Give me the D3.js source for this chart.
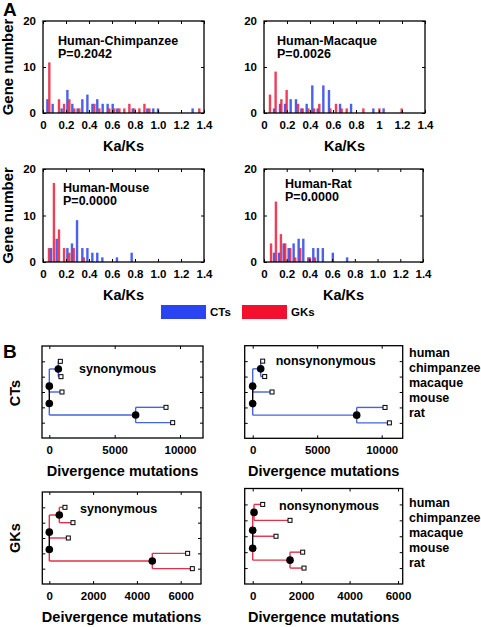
<!DOCTYPE html>
<html><head><meta charset="utf-8">
<script src="https://cdn.jsdelivr.net/npm/d3@7"></script>
<style>
body{margin:0;background:#fff}
svg{display:block}
text{font-family:"Liberation Sans",Arial,Helvetica,sans-serif;font-weight:bold;fill:#000}
</style>
</head><body>
<svg id="chart" width="481" height="627"></svg>
<script>
// ---------------- DATA ----------------
const pairNames = ["Human-Chimpanzee", "Human-Macaque", "Human-Mouse", "Human-Rat"];
const pValues = ["P=0.2042", "P=0.0026", "P=0.0000", "P=0.0000"];
const seriesNames = ["CTs", "GKs"];

const kaksTicks = [0, 0.2, 0.4, 0.6, 0.8, 1.0, 1.2, 1.4];
const kaksLabelsDecimal = ["0", "0.2", "0.4", "0.6", "0.8", "1.0", "1.2", "1.4"];
const kaksLabelsInt = ["0", "0.2", "0.4", "0.6", "0.8", "1", "1.2", "1.4"];
const geneTicks = [0, 10, 20];

// Ka/Ks bin centres and gene counts per comparison
const chimpCtX = [0.038, 0.084, 0.162, 0.212, 0.255, 0.301, 0.342, 0.386, 0.43, 0.472, 0.519, 0.562, 0.606, 0.646, 0.78, 0.907, 0.959, 1.0, 1.301];
const chimpCtN = [3, 2, 1, 5, 2, 1, 3, 4, 2, 3, 2, 2, 2, 1, 1, 1, 1, 1, 1];
const chimpGkX = [0.055, 0.139, 0.183, 0.229, 0.272, 0.316, 0.447, 0.49, 0.577, 0.62, 0.664, 0.707, 0.751, 0.795, 0.838, 0.882, 0.925, 1.359];
const chimpGkN = [11, 3, 2, 3, 1, 1, 2, 1, 1, 1, 1, 1, 2, 1, 1, 2, 1, 1];

const macaqueCtX = [0.087, 0.139, 0.183, 0.232, 0.278, 0.325, 0.371, 0.42, 0.467, 0.516, 0.565, 0.661, 0.757, 0.951, 1.04];
const macaqueCtN = [1, 2, 2, 3, 3, 1, 2, 6, 1, 6, 5, 2, 2, 1, 1];
const macaqueGkX = [0.052, 0.101, 0.151, 0.197, 0.296, 0.336, 0.386, 0.435, 0.481, 0.577, 0.626, 0.675, 0.719, 0.864, 1.003, 1.197];
const macaqueGkN = [4, 9, 3, 5, 2, 1, 1, 1, 2, 1, 2, 1, 1, 1, 1, 1];

const mouseCtX = [0.07, 0.119, 0.212, 0.252, 0.296, 0.342, 0.386, 0.429, 0.472, 0.516, 0.643, 0.771];
const mouseCtN = [3, 5, 3, 4, 9, 3, 3, 2, 2, 1, 1, 2];
const mouseGkX = [0.052, 0.095, 0.139, 0.183, 0.229, 0.267, 0.354];
const mouseGkN = [3, 17, 7, 3, 2, 3, 1];

const ratCtX = [0.088, 0.132, 0.173, 0.217, 0.261, 0.305, 0.346, 0.39, 0.434, 0.475, 0.518, 0.606, 0.732];
const ratCtN = [2, 2, 4, 3, 4, 5, 5, 1, 3, 3, 3, 2, 1];
const ratGkX = [0.062, 0.105, 0.149, 0.187, 0.231, 0.275, 0.319, 0.404, 0.448];
const ratGkN = [4, 13, 6, 4, 3, 1, 3, 1, 1];

// Trees: leaf order human, chimpanzee, macaque, mouse, rat
const leafNames = ["human", "chimpanzee", "macaque", "mouse", "rat"];
const leafRows = [1, 2, 3, 4, 5];
// internal nodes: [human-chimp, primate, root, rodent]
const nodeRows = [1.5, 2.62, 3.75, 4.5];

const ctSynLeafX = [842, 893, 969, 8929, 9439];
const ctSynNodeX = [689, 0, 0, 6607];
const ctNonLeafX = [775, 930, 1499, 10258, 10594];
const ctNonNodeX = [620, 0, 0, 8062];
const gkSynLeafX = [715, 1081, 868, 6317, 6530];
const gkSynNodeX = [457, 0, 0, 4703];
const gkNonLeafX = [413, 1541, 963, 2064, 2119];
const gkNonNodeX = [55, 0, 0, 1541];

const treeTicksCT = [0, 5000, 10000];
const treeTicksGK = [0, 2000, 4000, 6000];

// ---------------- STYLE ----------------
const BAR_BLUE = "#2c44ea", BAR_RED = "#ec1c38";
const LEG_BLUE = "#2a44f2", LEG_RED = "#f2102e";
const TREE_BLUE = "#4564da", TREE_RED = "#e0304a";

const svg = d3.select("#chart");
svg.append("rect").attr("width", 481).attr("height", 627).attr("fill", "#fff");

function frameAxes(g, x, y, xTicks, xLabels, yTicks, yLabels, box, pad) {
  const ax = d3.axisBottom(x).tickValues(xTicks).tickSizeInner(-3).tickSizeOuter(0).tickPadding(pad)
    .tickFormat((d, i) => xLabels ? xLabels[i] : "");
  const gb = g.append("g").attr("transform", `translate(0,${box.b})`).call(ax);
  const at = d3.axisTop(x).tickValues(xTicks).tickSizeInner(-3).tickSizeOuter(0).tickFormat("");
  const gt = g.append("g").attr("transform", `translate(0,${box.t})`).call(at);
  const al = d3.axisLeft(y).tickValues(yTicks).tickSizeInner(-3).tickSizeOuter(0).tickPadding(7)
    .tickFormat((d, i) => yLabels ? yLabels[i] : "");
  const gl = g.append("g").attr("transform", `translate(${box.l},0)`).call(al);
  const ar = d3.axisRight(y).tickValues(yTicks).tickSizeInner(-3).tickSizeOuter(0).tickFormat("");
  const gr = g.append("g").attr("transform", `translate(${box.r},0)`).call(ar);
  [gb, gt, gl, gr].forEach(a => {
    a.select(".domain").remove();
    a.selectAll("line").attr("stroke", "#000").attr("stroke-width", 1);
    a.selectAll("text").attr("font-size", 11.5).attr("font-family", '"Liberation Sans",Arial,sans-serif')
      .attr("font-weight", "bold").attr("fill", "#000");
  });
  g.append("rect").attr("x", box.l).attr("y", box.t).attr("width", box.r - box.l).attr("height", box.b - box.t)
    .attr("fill", "none").attr("stroke", "#000").attr("stroke-width", 1.3);
}

// ---------------- PANEL A ----------------
const hists = [
  {box: {l: 43, r: 204, t: 21, b: 113}, ctX: chimpCtX, ctN: chimpCtN, gkX: chimpGkX, gkN: chimpGkN, labels: kaksLabelsDecimal, i: 0, tx: 58, ty: 44.5, yLab: true},
  {box: {l: 264, r: 425, t: 21, b: 113}, ctX: macaqueCtX, ctN: macaqueCtN, gkX: macaqueGkX, gkN: macaqueGkN, labels: kaksLabelsInt, i: 1, tx: 277, ty: 44.5, yLab: false},
  {box: {l: 43, r: 204, t: 169, b: 262}, ctX: mouseCtX, ctN: mouseCtN, gkX: mouseGkX, gkN: mouseGkN, labels: kaksLabelsDecimal, i: 2, tx: 63, ty: 191.5, yLab: true},
  {box: {l: 264, r: 423, t: 169, b: 262}, ctX: ratCtX, ctN: ratCtN, gkX: ratGkX, gkN: ratGkN, labels: kaksLabelsDecimal, i: 3, tx: 285, ty: 187.5, yLab: false}
];

hists.forEach(h => {
  const g = svg.append("g");
  const x = d3.scaleLinear().domain([0, 1.4]).range([h.box.l, h.box.r]);
  const y = d3.scaleLinear().domain([0, 20]).range([h.box.b, h.box.t]);
  const bw = 2.4;
  const ct = h.ctX.map((v, j) => ({v, n: h.ctN[j]}));
  const gk = h.gkX.map((v, j) => ({v, n: h.gkN[j]}));
  g.selectAll(".ct").data(ct).join("rect")
    .attr("x", d => x(d.v) - bw / 2).attr("width", bw)
    .attr("y", d => y(d.n)).attr("height", d => y(0) - y(d.n))
    .attr("fill", BAR_BLUE).attr("fill-opacity", 0.85);
  g.selectAll(".gk").data(gk).join("rect")
    .attr("x", d => x(d.v) - bw / 2).attr("width", bw)
    .attr("y", d => y(d.n)).attr("height", d => y(0) - y(d.n))
    .attr("fill", BAR_RED).attr("fill-opacity", 0.85);
  frameAxes(g, x, y, kaksTicks, h.labels, geneTicks, geneTicks.map(String), h.box, 8);
  g.append("text").attr("x", h.tx).attr("y", h.ty).attr("font-size", 12.5).text(pairNames[h.i]);
  g.append("text").attr("x", h.tx).attr("y", h.ty + 13.5).attr("font-size", 12.5).text(pValues[h.i]);
  g.append("text").attr("x", (h.box.l + h.box.r) / 2).attr("y", h.box.b + 38).attr("text-anchor", "middle")
    .attr("font-size", 14.5).text("Ka/Ks");
  if (h.yLab) {
    g.append("text").attr("transform", `translate(13,${(h.box.t + h.box.b) / 2}) rotate(-90)`)
      .attr("text-anchor", "middle").attr("font-size", 15).text("Gene number");
  }
});

svg.append("text").attr("x", 3).attr("y", 16).attr("font-size", 19).text("A");
svg.append("text").attr("x", 3).attr("y", 358).attr("font-size", 19).text("B");

// legend
const legend = [{name: seriesNames[0], c: LEG_BLUE, x: 161}, {name: seriesNames[1], c: LEG_RED, x: 242}];
legend.forEach(l => {
  svg.append("rect").attr("x", l.x).attr("y", 305).attr("width", 45).attr("height", 14).attr("fill", l.c);
  svg.append("text").attr("x", l.x + 49).attr("y", 316).attr("font-size", 11.5).text(l.name);
});

// ---------------- PANEL B ----------------
const trees = [
  {box: {l: 42, r: 203, t: 346, b: 438}, dom: [-560, 11760], ticks: treeTicksCT, leafX: ctSynLeafX, nodeX: ctSynNodeX, color: TREE_BLUE,
   label: "synonymous", lx: 79, ly: 372.5, title: "Divergence mutations", names: false},
  {box: {l: 244.7, r: 402.7, t: 345.7, b: 438.3}, dom: [-620, 11628], ticks: treeTicksCT, leafX: ctNonLeafX, nodeX: ctNonNodeX, color: TREE_BLUE,
   label: "nonsynonymous", lx: 275.7, ly: 365, title: "Divergence mutations", names: true, nameY: 357},
  {box: {l: 42.3, r: 201, t: 492, b: 584}, dom: [-320, 6927], ticks: treeTicksGK, leafX: gkSynLeafX, nodeX: gkSynNodeX, color: TREE_RED,
   label: "synonymous", lx: 80, ly: 513, title: "Deivergence mutations", names: false},
  {box: {l: 244.7, r: 402.7, t: 488.5, b: 584}, dom: [-330, 6193], ticks: treeTicksGK, leafX: gkNonLeafX, nodeX: gkNonNodeX, color: TREE_RED,
   label: "nonsynonymous", lx: 279, ly: 510, title: "Divergence mutations", names: true, nameY: 507}
];

trees.forEach(t => {
  const g = svg.append("g");
  const x = d3.scaleLinear().domain(t.dom).range([t.box.l, t.box.r]);
  const y = d3.scaleLinear().domain([0, 6]).range([t.box.t, t.box.b]);
  const L = t.leafX, N = t.nodeX, R = leafRows, NR = nodeRows;
  const segs = [
    [N[0], R[0], N[0], R[1]], [N[0], R[0], L[0], R[0]], [N[0], R[1], L[1], R[1]],
    [N[1], NR[0], N[0], NR[0]], [N[1], NR[0], N[1], R[2]], [N[1], R[2], L[2], R[2]],
    [N[2], NR[2], N[2], NR[3]], [N[2], NR[3], N[3], NR[3]],
    [N[3], R[3], N[3], R[4]], [N[3], R[3], L[3], R[3]], [N[3], R[4], L[4], R[4]]
  ];
  g.selectAll(".seg").data(segs).join("line")
    .attr("x1", d => x(d[0])).attr("y1", d => y(d[1])).attr("x2", d => x(d[2])).attr("y2", d => y(d[3]))
    .attr("stroke", t.color).attr("stroke-width", 1.4);
  g.append("line").attr("x1", x(N[1])).attr("y1", y(NR[1])).attr("x2", x(N[2])).attr("y2", y(NR[2]))
    .attr("stroke", "#000").attr("stroke-width", 1.4);
  g.selectAll(".node").data(N).join("circle")
    .attr("cx", d => x(d)).attr("cy", (d, i) => y(NR[i])).attr("r", 3.8).attr("fill", "#000");
  g.selectAll(".leaf").data(L).join("rect")
    .attr("x", d => x(d) - 2).attr("y", (d, i) => y(R[i]) - 2).attr("width", 4).attr("height", 4)
    .attr("fill", "#fff").attr("stroke", "#000").attr("stroke-width", 1);
  frameAxes(g, x, y, t.ticks, t.ticks.map(String), leafRows, null, t.box, 8);
  g.append("text").attr("x", t.lx).attr("y", t.ly).attr("font-size", 12.5).text(t.label);
  g.append("text").attr("x", (t.box.l + t.box.r) / 2).attr("y", t.box.b + 37.5).attr("text-anchor", "middle")
    .attr("font-size", 14.5).text(t.title);
  if (t.names) {
    g.selectAll(".nm").data(leafNames).join("text")
      .attr("x", 409).attr("y", (d, i) => t.nameY + i * 15).attr("font-size", 12.5).text(d => d);
  }
});

svg.append("text").attr("transform", "translate(20,393) rotate(-90)").attr("text-anchor", "middle")
  .attr("font-size", 14.5).text("CTs");
svg.append("text").attr("transform", "translate(20,538) rotate(-90)").attr("text-anchor", "middle")
  .attr("font-size", 14.5).text("GKs");
</script>
</body></html>
